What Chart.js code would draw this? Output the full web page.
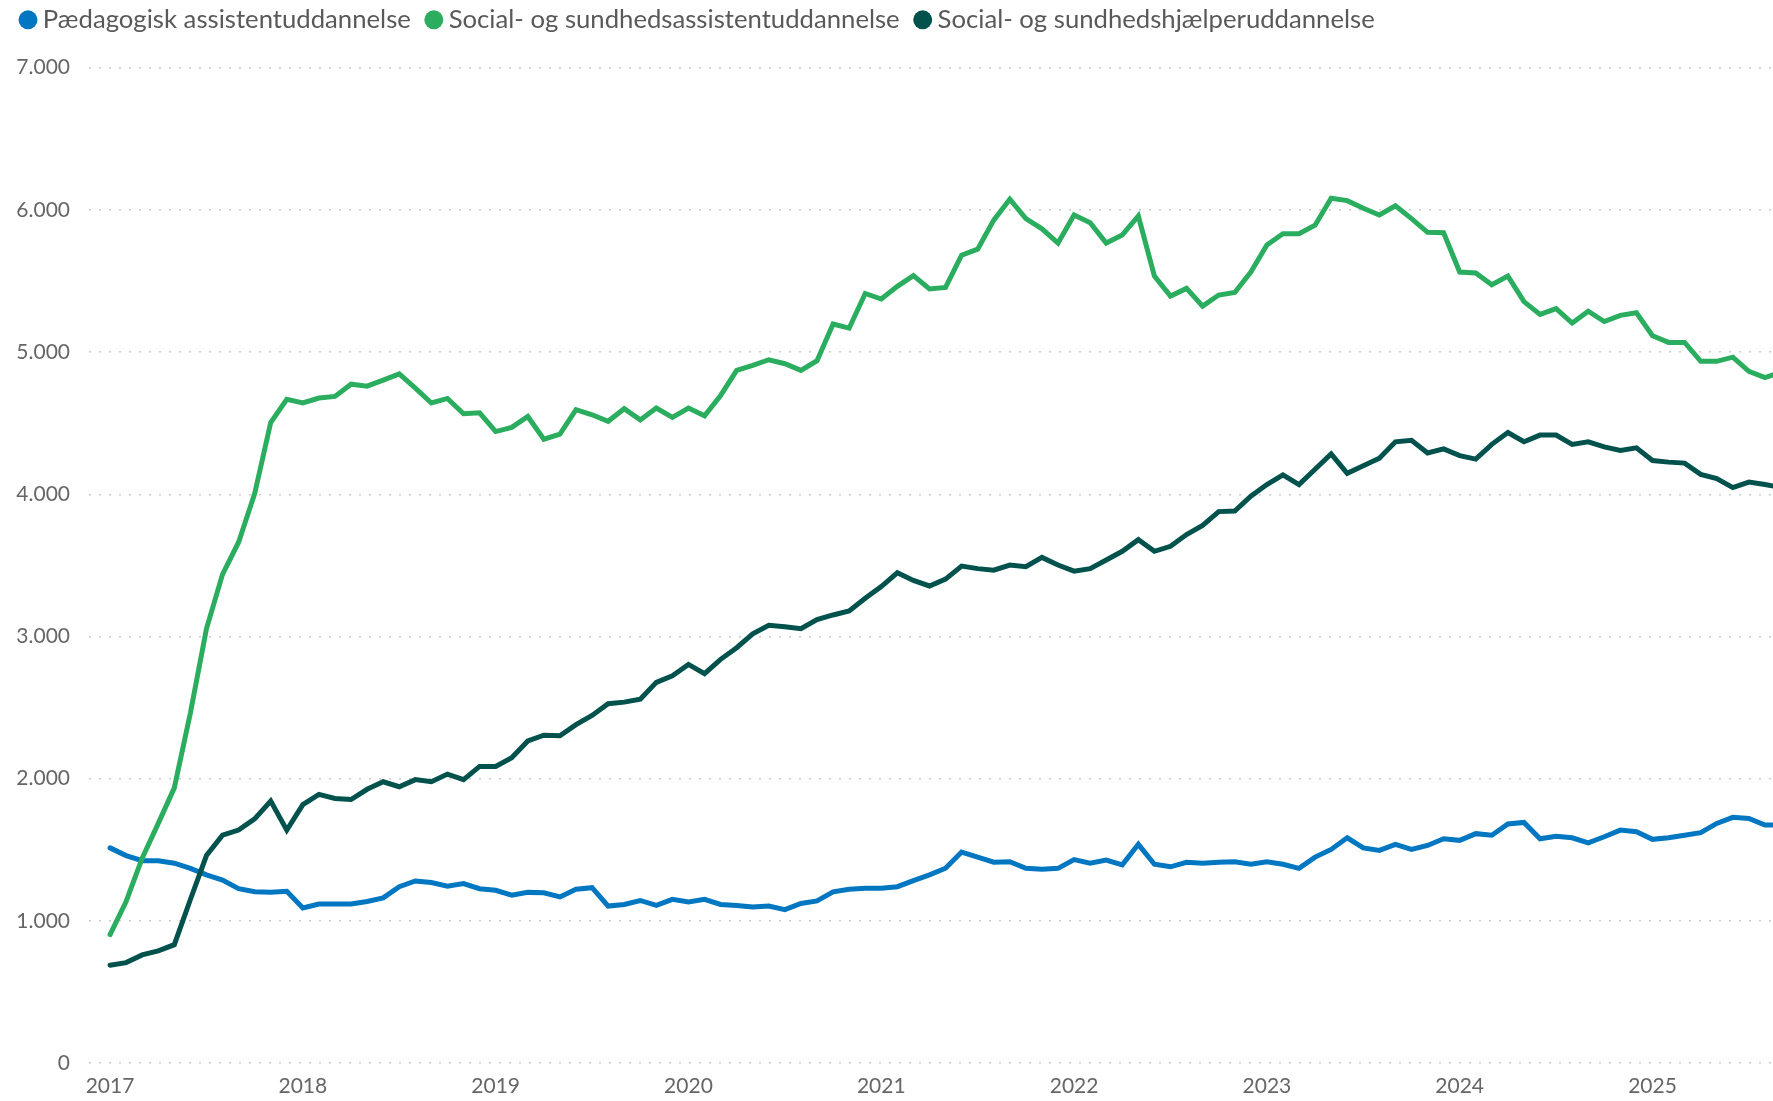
<!DOCTYPE html>
<html>
<head>
<meta charset="utf-8">
<script src="https://cdn.jsdelivr.net/npm/chart.js@4.4.1/dist/chart.umd.min.js"></script>
<style>
  html, body { margin: 0; padding: 0; background: #ffffff; }
  #c { display: block; }
</style>
</head>
<body>
<canvas id="c" width="1773" height="1101"></canvas>
<script>
// ---- Data (monthly, from January 2017) ----
const yearLabels = ['2017', '2018', '2019', '2020', '2021', '2022', '2023', '2024', '2025'];
const seriesNames = [
  'Pædagogisk assistentuddannelse',
  'Social- og sundhedsassistentuddannelse',
  'Social- og sundhedshjælperuddannelse'
];
const paedagogiskAssistent = [
  1513, 1459, 1423, 1423, 1405, 1369, 1323, 1287, 1226, 1204, 1201, 1208,
  1090, 1118, 1118, 1118, 1136, 1161, 1240, 1280, 1269, 1244, 1262, 1226,
  1215, 1180, 1200, 1197, 1168, 1222, 1233, 1104, 1115, 1143, 1108, 1151,
  1133, 1151, 1115, 1108, 1097, 1104, 1079, 1122, 1140, 1204, 1222, 1229,
  1229, 1240, 1283, 1323, 1370, 1484, 1448, 1412, 1416, 1369, 1362, 1369,
  1430, 1405, 1427, 1394, 1538, 1398, 1380, 1412, 1405, 1412, 1416, 1398,
  1416, 1398, 1369, 1448, 1502, 1584, 1513, 1495, 1538, 1502, 1530, 1577,
  1566, 1613, 1602, 1681, 1692, 1577, 1595, 1584, 1548, 1591, 1638, 1627,
  1573, 1584, 1602, 1620, 1685, 1728, 1720, 1674, 1674
];
const sosuAssistent = [
  903, 1136, 1441, 1685, 1935, 2462, 3054, 3437, 3663, 4004, 4505, 4667,
  4642, 4677, 4688, 4774, 4760, 4803, 4846, 4746, 4642, 4674, 4566, 4573,
  4441, 4470, 4547, 4387, 4423, 4595, 4559, 4513, 4602, 4523, 4606, 4541,
  4606, 4552, 4695, 4871, 4907, 4946, 4918, 4871, 4939, 5197, 5168, 5412,
  5373, 5462, 5538, 5444, 5455, 5681, 5724, 5928, 6075, 5939, 5867, 5767,
  5964, 5910, 5767, 5824, 5957, 5534, 5394, 5448, 5323, 5401, 5419, 5563,
  5753, 5832, 5832, 5892, 6082, 6065, 6011, 5964, 6029, 5939, 5842, 5839,
  5563, 5556, 5473, 5534, 5355, 5265, 5305, 5204, 5287, 5215, 5258, 5276,
  5115, 5068, 5068, 4935, 4935, 4964, 4864, 4821, 4857
];
const sosuHjaelper = [
  688, 706, 760, 789, 832, 1150, 1459, 1602, 1638, 1717, 1842, 1638,
  1817, 1889, 1860, 1853, 1925, 1978, 1943, 1993, 1978, 2032, 1993, 2086,
  2086, 2147, 2265, 2305, 2301, 2380, 2444, 2527, 2538, 2559, 2677, 2724,
  2803, 2738, 2839, 2921, 3018, 3079, 3068, 3054, 3118, 3151, 3179, 3269,
  3351, 3448, 3394, 3355, 3403, 3495, 3477, 3466, 3502, 3491, 3556, 3502,
  3459, 3477, 3538, 3599, 3681, 3599, 3634, 3717, 3781, 3878, 3882, 3986,
  4068, 4136, 4068, 4176, 4283, 4147, 4200, 4254, 4369, 4380, 4290, 4319,
  4272, 4247, 4351, 4434, 4369, 4416, 4416, 4351, 4369, 4333, 4308, 4326,
  4237, 4226, 4219, 4140, 4111, 4047, 4086, 4068, 4047
];
const yTickValues = [0, 1000, 2000, 3000, 4000, 5000, 6000, 7000];

// ---- Styling ----
const colors = ['#0077c0', '#2aad5e', '#01524d'];
const toPoints = arr => arr.map((v, i) => ({ x: i, y: v }));
const fmt = v => String(v).replace(/\B(?=(\d{3})+(?!\d))/g, '.');

Chart.defaults.font.family = 'Lato, "Noto Sans", sans-serif';

const legendSpacer = {
  id: 'legendSpacer',
  beforeInit(chart) {
    const origFit = chart.legend.fit;
    chart.legend.fit = function () {
      origFit.call(this);
      this.height = 81.7;
    };
  }
};

const seriesData = [paedagogiskAssistent, sosuAssistent, sosuHjaelper];
const datasets = seriesData.map((arr, k) => ({
  label: seriesNames[k],
  data: toPoints(arr),
  borderColor: colors[k],
  backgroundColor: colors[k],
  borderWidth: 5,
  pointRadius: 0,
  pointHoverRadius: 0,
  tension: 0,
  fill: false,
  borderCapStyle: 'round',
  order: 2 - k
}));

new Chart(document.getElementById('c'), {
  type: 'line',
  data: { datasets },
  plugins: [legendSpacer],
  options: {
    responsive: false,
    devicePixelRatio: 1,
    animation: false,
    layout: { padding: { top: -14, left: 5, right: 0, bottom: 0 } },
    plugins: {
      tooltip: { enabled: false },
      legend: {
        display: true,
        position: 'top',
        align: 'start',
        labels: {
          usePointStyle: true,
          pointStyle: 'circle',
          boxWidth: 4,
          boxHeight: 13.43,
          padding: 21,
          color: '#595959',
          font: { family: 'Lato', size: 25.7 },
          sort: (a, b) => a.datasetIndex - b.datasetIndex,
          generateLabels: chart =>
            Chart.defaults.plugins.legend.labels.generateLabels(chart)
              .map(l => Object.assign(l, { lineWidth: 0 }))
        }
      }
    },
    scales: {
      x: {
        type: 'linear',
        min: -1.31,
        max: 103.5,
        grid: { display: false, drawTicks: false },
        border: { display: false },
        afterBuildTicks: scale => {
          scale.ticks = yearLabels.map((_, k) => ({ value: k * 12 }));
        },
        afterFit: scale => { scale.height = 38; },
        ticks: {
          autoSkip: false,
          maxRotation: 0,
          padding: 11,
          color: '#666666',
          font: { family: 'Lato', size: 21 },
          callback: (value, index) => yearLabels[index]
        }
      },
      y: {
        min: 0,
        max: 7000,
        afterBuildTicks: scale => {
          scale.ticks = yTickValues.map(v => ({ value: v }));
        },
        afterFit: scale => { scale.width = 84; },
        grid: {
          drawTicks: false,
          color: '#cccccc',
          lineWidth: 1.5
        },
        border: { display: false, dash: [2, 8] },
        ticks: {
          padding: 19,
          color: '#666666',
          font: { family: 'Lato', size: 21 },
          callback: v => fmt(v)
        }
      }
    }
  }
});
</script>
</body>
</html>
